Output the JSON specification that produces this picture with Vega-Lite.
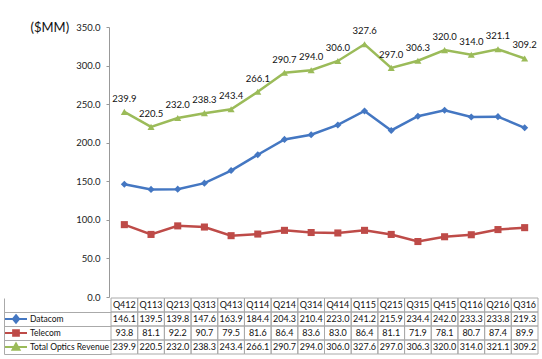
{
  "$schema": "https://vega.github.io/schema/vega-lite/v6.json",
  "padding": {"left": 3, "top": 21, "right": 5, "bottom": 5},
  "background": "white",
  "config": {
    "view": {"stroke": null},
    "font": "Lato",
    "text": {"font": "Lato"},
    "axis": {"labelFont": "Lato", "titleFont": "Lato"},
    "legend": {"labelFont": "Lato"}
  },
  "data": {"values": [
    {"q": "Q412", "series": "Datacom", "value": 146.1},
    {"q": "Q113", "series": "Datacom", "value": 139.5},
    {"q": "Q213", "series": "Datacom", "value": 139.8},
    {"q": "Q313", "series": "Datacom", "value": 147.6},
    {"q": "Q413", "series": "Datacom", "value": 163.9},
    {"q": "Q114", "series": "Datacom", "value": 184.4},
    {"q": "Q214", "series": "Datacom", "value": 204.3},
    {"q": "Q314", "series": "Datacom", "value": 210.4},
    {"q": "Q414", "series": "Datacom", "value": 223.0},
    {"q": "Q115", "series": "Datacom", "value": 241.2},
    {"q": "Q215", "series": "Datacom", "value": 215.9},
    {"q": "Q315", "series": "Datacom", "value": 234.4},
    {"q": "Q415", "series": "Datacom", "value": 242.0},
    {"q": "Q116", "series": "Datacom", "value": 233.3},
    {"q": "Q216", "series": "Datacom", "value": 233.8},
    {"q": "Q316", "series": "Datacom", "value": 219.3},
    {"q": "Q412", "series": "Telecom", "value": 93.8},
    {"q": "Q113", "series": "Telecom", "value": 81.1},
    {"q": "Q213", "series": "Telecom", "value": 92.2},
    {"q": "Q313", "series": "Telecom", "value": 90.7},
    {"q": "Q413", "series": "Telecom", "value": 79.5},
    {"q": "Q114", "series": "Telecom", "value": 81.6},
    {"q": "Q214", "series": "Telecom", "value": 86.4},
    {"q": "Q314", "series": "Telecom", "value": 83.6},
    {"q": "Q414", "series": "Telecom", "value": 83.0},
    {"q": "Q115", "series": "Telecom", "value": 86.4},
    {"q": "Q215", "series": "Telecom", "value": 81.1},
    {"q": "Q315", "series": "Telecom", "value": 71.9},
    {"q": "Q415", "series": "Telecom", "value": 78.1},
    {"q": "Q116", "series": "Telecom", "value": 80.7},
    {"q": "Q216", "series": "Telecom", "value": 87.4},
    {"q": "Q316", "series": "Telecom", "value": 89.9},
    {"q": "Q412", "series": "Total Optics Revenue", "value": 239.9},
    {"q": "Q113", "series": "Total Optics Revenue", "value": 220.5},
    {"q": "Q213", "series": "Total Optics Revenue", "value": 232.0},
    {"q": "Q313", "series": "Total Optics Revenue", "value": 238.3},
    {"q": "Q413", "series": "Total Optics Revenue", "value": 243.4},
    {"q": "Q114", "series": "Total Optics Revenue", "value": 266.1},
    {"q": "Q214", "series": "Total Optics Revenue", "value": 290.7},
    {"q": "Q314", "series": "Total Optics Revenue", "value": 294.0},
    {"q": "Q414", "series": "Total Optics Revenue", "value": 306.0},
    {"q": "Q115", "series": "Total Optics Revenue", "value": 327.6},
    {"q": "Q215", "series": "Total Optics Revenue", "value": 297.0},
    {"q": "Q315", "series": "Total Optics Revenue", "value": 306.3},
    {"q": "Q415", "series": "Total Optics Revenue", "value": 320.0},
    {"q": "Q116", "series": "Total Optics Revenue", "value": 314.0},
    {"q": "Q216", "series": "Total Optics Revenue", "value": 321.1},
    {"q": "Q316", "series": "Total Optics Revenue", "value": 309.2}
  ]},
  "bounds": "flush",
  "spacing": 1,
  "resolve": {"scale": {"color": "independent", "y": "independent"}, "legend": {"color": "independent"}},
  "vconcat": [
    {
      "width": 427,
      "height": 270,
      "encoding": {
        "x": {"field": "q", "type": "nominal", "sort": null,
              "scale": {"type": "band", "paddingInner": 0, "paddingOuter": 0},
              "axis": {"labels": false, "ticks": false, "title": null, "domain": false}},
        "y": {"field": "value", "type": "quantitative",
              "scale": {"domain": [0, 350], "nice": false},
              "axis": {"values": [0, 50, 100, 150, 200, 250, 300, 350], "format": ".1f",
                       "grid": false, "offset": 2, "tickSize": 3, "labelPadding": 6,
                       "labelFontSize": 9.5, "labelColor": "#222", "domainColor": "#999", "tickColor": "#999",
                       "title": "($MM)", "titleAngle": 0, "titleFontSize": 13, "titleFontWeight": "normal",
                       "titleColor": "#111", "titleAlign": "left", "titleBaseline": "middle",
                       "titleX": -79, "titleY": 0}}
      },
      "layer": [
        {
          "mark": {"type": "line", "strokeWidth": 2.5},
          "encoding": {
            "color": {"field": "series", "type": "nominal",
                      "scale": {"domain": ["Datacom", "Telecom", "Total Optics Revenue"], "range": ["#4477C2", "#BE4B48", "#9BBB59"]},
                      "legend": {"orient": "none", "legendX": -107, "legendY": 285, "title": null,
                                 "labelFontSize": 8.5, "labelColor": "#111", "rowPadding": 0, "clipHeight": 14,
                                 "symbolSize": 484, "symbolStrokeWidth": 2, "labelOffset": 2, "labelLimit": 200,
                                 "encode": {"symbols": {"update": {
                                   "shape": [
                                     {"test": "datum.value === 'Datacom'", "value": "M-1,0H1M0,-0.34L0.28,0L0,0.34L-0.28,0Z"},
                                     {"test": "datum.value === 'Telecom'", "value": "M-1,0H1M-0.26,-0.26H0.26V0.26H-0.26Z"},
                                     {"value": "M-1,0H1M0,-0.32L0.32,0.26H-0.32Z"}
                                   ],
                                   "fill": [
                                     {"test": "datum.value === 'Datacom'", "value": "#4477C2"},
                                     {"test": "datum.value === 'Telecom'", "value": "#BE4B48"},
                                     {"value": "#9BBB59"}
                                   ],
                                   "stroke": [
                                     {"test": "datum.value === 'Datacom'", "value": "#4477C2"},
                                     {"test": "datum.value === 'Telecom'", "value": "#BE4B48"},
                                     {"value": "#9BBB59"}
                                   ],
                                   "fillOpacity": {"value": 1},
                                   "strokeOpacity": {"value": 1}
                                 }}}}}
          }
        },
        {
          "mark": {"type": "point", "filled": true, "opacity": 1, "size": 50},
          "encoding": {
            "color": {"field": "series", "type": "nominal", "legend": null},
            "shape": {"field": "series", "type": "nominal", "legend": null,
                      "scale": {"domain": ["Datacom", "Telecom", "Total Optics Revenue"], "range": ["diamond", "square", "triangle-up"]}}
          }
        },
        {
          "transform": [{"filter": "datum.series === 'Total Optics Revenue'"}],
          "mark": {"type": "text", "dy": -13, "fontSize": 9.5, "color": "#111"},
          "encoding": {"text": {"field": "value", "type": "quantitative", "format": ".1f"}}
        }
      ]
    },
    {
      "width": 427,
      "height": 56,
      "encoding": {
        "x": {"field": "q", "type": "nominal", "sort": null,
              "scale": {"type": "band", "paddingInner": 0, "paddingOuter": 0}, "axis": null}
      },
      "layer": [
        {
          "mark": {"type": "rect", "fill": "transparent", "stroke": "#AAAAAA", "strokeWidth": 1},
          "encoding": {
            "y": {"field": "series", "type": "nominal",
                  "scale": {"type": "band", "domain": ["hdr", "Datacom", "Telecom", "Total Optics Revenue"], "paddingInner": 0, "paddingOuter": 0},
                  "axis": {"orient": "left", "offset": 107, "labels": false, "title": null,
                           "domain": true, "domainColor": "#AAAAAA", "ticks": true, "tickSize": -107,
                           "tickColor": "#AAAAAA", "bandPosition": 1}}
          }
        },
        {
          "transform": [{"filter": "datum.series === 'Datacom'"}],
          "mark": {"type": "rect", "fill": "transparent", "stroke": "#AAAAAA", "strokeWidth": 1},
          "encoding": {"y": {"datum": "hdr"}}
        },
        {
          "transform": [{"filter": "datum.series === 'Datacom'"}],
          "mark": {"type": "text", "fontSize": 9, "color": "#111"},
          "encoding": {"y": {"datum": "hdr"}, "text": {"field": "q", "type": "nominal"}}
        },
        {
          "mark": {"type": "text", "fontSize": 9, "color": "#111"},
          "encoding": {
            "y": {"field": "series", "type": "nominal"},
            "text": {"field": "value", "type": "quantitative", "format": ".1f"}
          }
        }
      ]
    }
  ]
}
